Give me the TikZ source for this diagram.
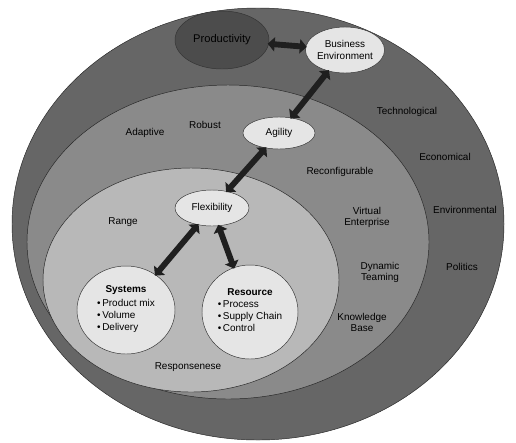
\documentclass[tikz,border=0pt]{standalone}
\usepackage{fontspec}
\setmainfont{Liberation Sans}
\usetikzlibrary{shapes.geometric,arrows.meta}
\definecolor{outerc}{gray}{0.40}
\definecolor{midc}{gray}{0.54}
\definecolor{innerc}{gray}{0.72}
\definecolor{bubblec}{gray}{0.90}
\definecolor{prodc}{gray}{0.30}
\definecolor{arrowc}{gray}{0.12}
\newcommand{\blist}[2]{\textbf{#1}\\[2pt]\begin{tabular}{@{}l@{}}#2\end{tabular}}
\tikzset{
  bubble/.style={ellipse,draw=black!80,fill=bubblec,inner sep=0pt,align=center,
    font=\fontsize{8.5}{9.5}\selectfont},
  layer/.style={font=\fontsize{8.5}{9.5}\selectfont,text=black,align=center},
  fat/.style={draw=arrowc,line width=5pt,<->,shorten <=-1pt,shorten >=-1pt},
}
\begin{document}
\begin{tikzpicture}[x=0.03cm,y=-0.03cm,>={Triangle[width=12pt,length=6pt]},line join=round]
    \useasboundingbox (0,0) rectangle (516,442);
    % the three layers
    \draw[black!85,fill=outerc] (258,224) ellipse [x radius=246, y radius=216];
    \draw[black!85,fill=midc] (228,242) ellipse [x radius=201, y radius=157];
    \draw[black!85,fill=innerc] (191,280) ellipse [x radius=148, y radius=112];
    % bubbles
    \node[bubble,fill=prodc,minimum width=2.82cm,minimum height=1.74cm,font=\fontsize{9.5}{11}\selectfont] (prod) at (222,40) {Productivity};
    \node[bubble,minimum width=2.22cm,minimum height=1.38cm] (env) at (345,50) {Business\\Environment};
    \node[bubble,minimum width=2.16cm,minimum height=0.96cm] (agil) at (279,133) {Agility};
    \node[bubble,minimum width=2.22cm,minimum height=1.08cm] (flex) at (212,208) {Flexibility};
    \node[bubble,minimum width=2.94cm,minimum height=2.64cm] (sys) at (126,310)
        {\blist{Systems}{\textbullet\,Product mix\\[1pt]\textbullet\,Volume\\[1pt]\textbullet\,Delivery}};
    \node[bubble,minimum width=2.88cm,minimum height=2.82cm] (res) at (250,312)
        {\blist{Resource}{\textbullet\,Process\\[1pt]\textbullet\,Supply Chain\\[1pt]\textbullet\,Control}};
    % connectors
    \draw[fat] (prod) -- (env);
    \draw[fat] (env) -- (agil);
    \draw[fat] (agil) -- (flex);
    \draw[fat] (flex) -- (sys);
    \draw[fat] (flex) -- (res);
    % outer layer words
    \node[layer] (tech) at (407,112) {Technological};
    \node[layer] (econ) at (445,157) {Economical};
    \node[layer] (envi) at (465,210) {Environmental};
    \node[layer] (poli) at (462,267) {Politics};
    % middle layer words
    \node[layer] (adap) at (145,133) {Adaptive};
    \node[layer] (robu) at (205,125) {Robust};
    \node[layer] (reco) at (340,172) {Reconfigurable};
    \node[layer] (virt) at (367,217) {Virtual\\Enterprise};
    \node[layer] (dyna) at (380,272) {Dynamic\\Teaming};
    \node[layer] (know) at (362,322) {Knowledge\\Base};
    % inner layer words
    \node[layer] (rang) at (123,222) {Range};
    \node[layer] (resp) at (188,367) {Responsenese};
\end{tikzpicture}
\end{document}
